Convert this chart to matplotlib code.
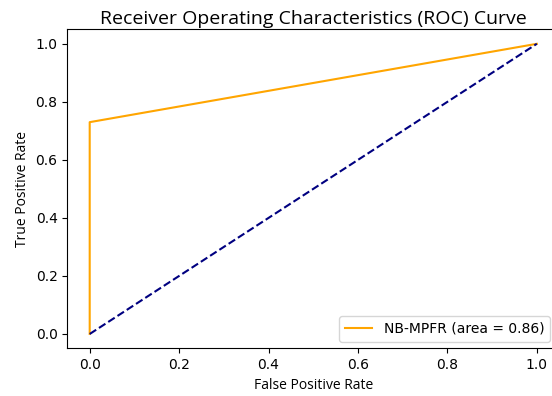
import matplotlib
matplotlib.use("Agg")
import matplotlib.pyplot as plt

# ROC points
fpr = [0.0, 0.0, 1.0]
tpr = [0.0, 0.73, 1.0]
roc_auc = 0.86

diag_x = [0, 1]
diag_y = [0, 1]

label_font = "Open Sans"

fig = plt.figure(figsize=(5.52, 3.96), dpi=100)
ax = fig.add_axes([0.122, 0.12, 0.891, 0.806])

ax.plot(fpr, tpr, color="orange", lw=1.5, label="NB-MPFR (area = %0.2f)" % roc_auc)
ax.plot(diag_x, diag_y, color="navy", lw=1.5, linestyle="--")

ax.set_xlabel("False Positive Rate", family=label_font, fontsize=10)
ax.set_ylabel("True Positive Rate", family=label_font, fontsize=10)
ax.set_title("Receiver Operating Characteristics (ROC) Curve", family=label_font,
             fontsize=14, pad=4)
ax.legend(loc="lower right", bbox_to_anchor=(0.995, 0.0))

fig.savefig("out.png", dpi=100)
